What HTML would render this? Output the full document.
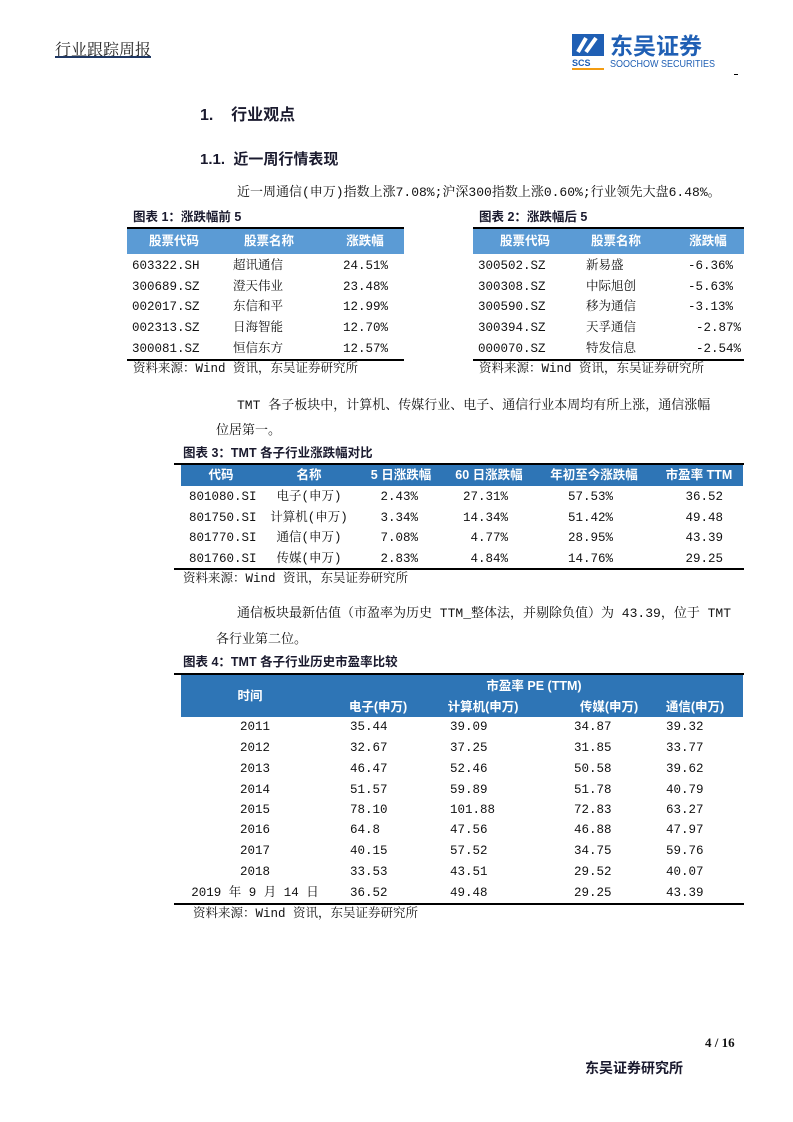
<!DOCTYPE html>
<html><head><meta charset="utf-8">
<style>
html,body{margin:0;padding:0;background:#fff;}
#page{position:relative;width:793px;height:1122px;overflow:hidden;background:#fff;
font-family:"Liberation Mono","Noto Serif CJK SC",serif;color:#111;}
.t{position:absolute;white-space:nowrap;line-height:14px;font-size:12.5px;}
.b{font-family:"Liberation Sans","Noto Sans CJK SC",sans-serif;font-weight:bold;}
.hl{position:absolute;background:#000;}
.bg{position:absolute;}
</style></head><body>
<div id="page">
<div class="t" style="left:55px;top:40px;font-size:16px;line-height:17px;color:#222;font-family:'Noto Serif CJK SC',serif;">行业跟踪周报</div>
<div class="hl" style="left:55px;top:56px;width:96px;height:2px;background:#1f3864;"></div>
<div style="position:absolute;left:572px;top:34px;width:160px;height:40px;">
  <svg width="34" height="36" viewBox="0 0 34 36" style="position:absolute;left:0;top:0"><rect x="0" y="0" width="32" height="22" fill="#1f5fb4"/><path d="M6 18 L14 4 M14 18 L24 4" stroke="#fff" stroke-width="4"/><text x="0" y="32" font-size="9" font-weight="bold" fill="#1f5fb4" font-family="Liberation Sans">SCS</text><rect x="0" y="34" width="32" height="2" fill="#f39c12"/></svg>
  <div class="t b" style="left:38px;top:0;font-size:23px;line-height:25px;color:#1f5fb4;">东吴证券</div>
  <div class="t" style="left:38px;top:26px;font-size:10px;line-height:10px;color:#1f5fb4;font-family:'Liberation Sans',sans-serif;transform:scaleX(0.9);transform-origin:left;">SOOCHOW SECURITIES</div>
</div>
<div class="hl" style="left:734px;top:74px;width:4px;height:1px;"></div>
<div class="t b" style="left:200px;top:107px;font-size:16px;line-height:18px;color:#1a1a2e;">1.&nbsp;&nbsp;&nbsp;&nbsp;行业观点</div>
<div class="t b" style="left:200px;top:151px;font-size:15px;line-height:18px;color:#1a1a2e;">1.1.&nbsp;&nbsp;近一周行情表现</div>
<div class="t" style="left:237px;top:186px;font-size:13px;">近一周通信(申万)指数上涨7.08%;沪深300指数上涨0.60%;行业领先大盘6.48%。</div>
<div class="t" style="left:237px;top:399px;font-size:13px;">TMT 各子板块中，计算机、传媒行业、电子、通信行业本周均有所上涨，通信涨幅</div>
<div class="t" style="left:216px;top:424px;font-size:13px;">位居第一。</div>
<div class="t" style="left:237px;top:607px;font-size:13px;">通信板块最新估值（市盈率为历史 TTM_整体法，并剔除负值）为 43.39，位于 TMT</div>
<div class="t" style="left:216px;top:633px;font-size:13px;">各行业第二位。</div>
<div class="t b" style="left:705px;top:1036px;font-size:13px;font-family:'Liberation Serif',serif;">4 / 16</div>
<div class="t b" style="left:585px;top:1060px;font-size:14px;line-height:16px;color:#1a1a2e;">东吴证券研究所</div>
</div>
<script>
const page=document.getElementById('page');
function txt(name,x,y,s,al,cls,color){
  const d=document.createElement('div');
  d.className='t'+(cls?' '+cls:'');
  
  
  d.textContent=s;d.style.left=x+'px';d.style.top=(y-7)+'px';
  if(al==='c')d.style.transform='translateX(-50%)';
  if(al==='r')d.style.transform='translateX(-100%)';
  if(color)d.style.color=color;
  page.appendChild(d);return d;
}
function box(name,x,y,w,h,c){
  const d=document.createElement('div');d.className='bg';
  
  
  d.style.cssText+=`left:${x}px;top:${y}px;width:${w}px;height:${h}px;background:${c}`;
  page.appendChild(d);
}
// Table 1 & 2
const t1codes=['603322.SH','300689.SZ','002017.SZ','002313.SZ','300081.SZ'];
const t1names=['超讯通信','澄天伟业','东信和平','日海智能','恒信东方'];
const t1vals=['24.51%','23.48%','12.99%','12.70%','12.57%'];
const t2codes=['300502.SZ','300308.SZ','300590.SZ','300394.SZ','000070.SZ'];
const t2names=['新易盛','中际旭创','移为通信','天孚通信','特发信息'];
const t2vals=['-6.36%','-5.63%','-3.13%','-2.87%','-2.54%'];
const rowsY1=[266,287,307,328,349];
function smallTable(id,x0,w,cap,codes,names,vals,cols,nameX,valR){
  txt(id+'-caption',x0+6,217,cap,'l','b','#1a1a2e').style.fontSize='12.5px';
  box(id+'-top-rule',x0,227,w,2,'#000');
  box(id+'-header-bg',x0,229,w,25,'#5b9bd5');
  ['股票代码','股票名称','涨跌幅'].forEach((h,i)=>{txt(id+'-header',cols[i],241,h,'c','b','#fff');});
  codes.forEach((c,i)=>{
    txt(id+'-code',x0+5,rowsY1[i],c,'l');
    txt(id+'-name',nameX,rowsY1[i],names[i],'l');
    txt(id+'-value',valR[i],rowsY1[i],vals[i],'r');
  });
  box(id+'-bottom-rule',x0,359,w,2,'#000');
  txt(id+'-source',x0+6,369,'资料来源：Wind 资讯，东吴证券研究所','l');
}
smallTable('table1',127,277,'图表 1：涨跌幅前 5',t1codes,t1names,t1vals,[174,269,365],233,[388,388,388,388,388]);
smallTable('table2',473,271,'图表 2：涨跌幅后 5',t2codes,t2names,t2vals,[525,616,708],586,[733,733,733,741,741]);
// Table 3
const t3codes=['801080.SI','801750.SI','801770.SI','801760.SI'];
const t3names=['电子(申万)','计算机(申万)','通信(申万)','传媒(申万)'];
const t3d5=['2.43%','3.34%','7.08%','2.83%'];
const t3d60=['27.31%','14.34%','4.77%','4.84%'];
const t3ytd=['57.53%','51.42%','28.95%','14.76%'];
const t3pe=['36.52','49.48','43.39','29.25'];
const t3heads=['代码','名称','5 日涨跌幅','60 日涨跌幅','年初至今涨跌幅','市盈率 TTM'];
const t3hx=[221,309,401,489,594,699];
const t3y=[497,518,538,559];
txt('table3-caption',183,453,'图表 3：TMT 各子行业涨跌幅对比','l','b','#1a1a2e');
box('table3-top-rule',174,463,570,2,'#000');
box('table3-header-bg',181,465,562,21,'#2e75b6');
t3heads.forEach((h,i)=>{txt('table3-header',t3hx[i],475,h,'c','b','#fff');});
t3codes.forEach((c,i)=>{
  txt('table3-code',189,t3y[i],c,'l');
  txt('table3-name',309,t3y[i],t3names[i],'c');
  txt('table3-5d',418,t3y[i],t3d5[i],'r');
  txt('table3-60d',508,t3y[i],t3d60[i],'r');
  txt('table3-ytd',613,t3y[i],t3ytd[i],'r');
  txt('table3-pe',723,t3y[i],t3pe[i],'r');
});
box('table3-bottom-rule',174,568,570,2,'#000');
txt('table3-source',183,579,'资料来源：Wind 资讯，东吴证券研究所','l');
// Table 4
const t4years=['2011','2012','2013','2014','2015','2016','2017','2018','2019 年 9 月 14 日'];
const t4elec=['35.44','32.67','46.47','51.57','78.10','64.8','40.15','33.53','36.52'];
const t4comp=['39.09','37.25','52.46','59.89','101.88','47.56','57.52','43.51','49.48'];
const t4media=['34.87','31.85','50.58','51.78','72.83','46.88','34.75','29.52','29.25'];
const t4tele=['39.32','33.77','39.62','40.79','63.27','47.97','59.76','40.07','43.39'];
const t4y=[727,748,769,790,810,830,851,872,893];
txt('table4-caption',183,662,'图表 4：TMT 各子行业历史市盈率比较','l','b','#1a1a2e');
box('table4-top-rule',174,673,570,2,'#000');
box('table4-header-bg',181,675,562,42,'#2e75b6');
txt('table4-header-time',250,696,'时间','c','b','#fff');
txt('table4-header-pe',534,686,'市盈率 PE (TTM)','c','b','#fff');
[['电子(申万)',378],['计算机(申万)',483],['传媒(申万)',609],['通信(申万)',695]].forEach(h=>{txt('table4-header-col',h[1],707,h[0],'c','b','#fff');});
t4years.forEach((yv,i)=>{
  txt('table4-year',255,t4y[i],yv,'c');
  txt('table4-electronics',350,t4y[i],t4elec[i],'l');
  txt('table4-computer',450,t4y[i],t4comp[i],'l');
  txt('table4-media',574,t4y[i],t4media[i],'l');
  txt('table4-telecom',666,t4y[i],t4tele[i],'l');
});
box('table4-bottom-rule',174,903,570,2,'#000');
txt('table4-source',193,914,'资料来源：Wind 资讯，东吴证券研究所','l');
</script>
</body></html>
